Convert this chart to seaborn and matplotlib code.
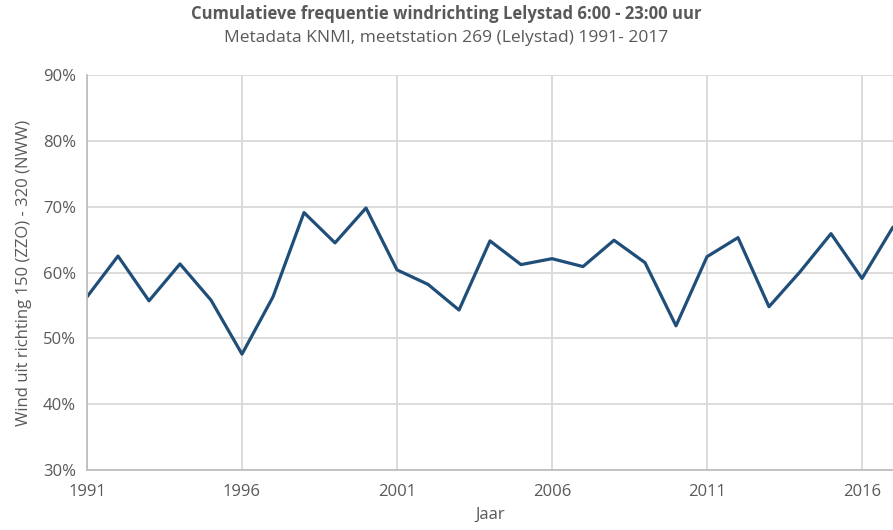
import pandas as pd
import seaborn as sns
import matplotlib.pyplot as plt
from matplotlib.ticker import FuncFormatter

years = list(range(1991, 2018))
pct = [56.3, 62.5, 55.7, 61.3, 55.8, 47.6, 56.3, 69.1, 64.5, 69.8,
       60.4, 58.2, 54.3, 64.8, 61.2, 62.1, 60.9, 64.9, 61.5, 51.9,
       62.4, 65.3, 54.8, 60.1, 65.9, 59.1, 66.9]
xticks = [1991, 1996, 2001, 2006, 2011, 2016]
yticks = [30, 40, 50, 60, 70, 80, 90]

df = pd.DataFrame({'Jaar': years, 'Wind': pct})

sns.set_theme(style='white')
plt.rcParams['font.family'] = ['Open Sans', 'DejaVu Sans']

fig = plt.figure(figsize=(8.93, 5.30), dpi=100)
ax = fig.add_axes([87 / 893, 1 - 470 / 530, 1 - 87 / 893, 395 / 530])

sns.lineplot(data=df, x='Jaar', y='Wind', ax=ax, color='#1f4e79', linewidth=2.3)

ax.set_xlim(1991, 2017)
ax.set_ylim(30, 90)
ax.set_xticks(xticks)
ax.set_yticks(yticks)
ax.yaxis.set_major_formatter(FuncFormatter(lambda v, p: '%d%%' % v))
ax.grid(True, color='#d9d9d9', linewidth=1.3)
ax.set_axisbelow(True)
for s in ['top', 'right']:
    ax.spines[s].set_visible(False)
for s in ['left', 'bottom']:
    ax.spines[s].set_color('#bfbfbf')
    ax.spines[s].set_linewidth(1.3)
ax.tick_params(axis='x', colors='#595959', labelsize=12, length=0, pad=10)
ax.tick_params(axis='y', colors='#595959', labelsize=12, length=0, pad=8)
ax.set_xlabel('Jaar', color='#595959', fontsize=12, labelpad=5)
ax.set_ylabel('Wind uit richting 150 (ZZO) - 320 (NWW)', color='#595959', fontsize=12, labelpad=8)

fig.text(0.5, 1 - 14 / 530, 'Cumulatieve frequentie windrichting Lelystad 6:00 - 23:00 uur',
         ha='center', va='center', fontsize=12, fontweight='bold', color='#595959')
fig.text(0.5, 1 - 38 / 530, 'Metadata KNMI, meetstation 269 (Lelystad) 1991- 2017',
         ha='center', va='center', fontsize=12.5, color='#595959')

fig.savefig('out.png', dpi=100)
